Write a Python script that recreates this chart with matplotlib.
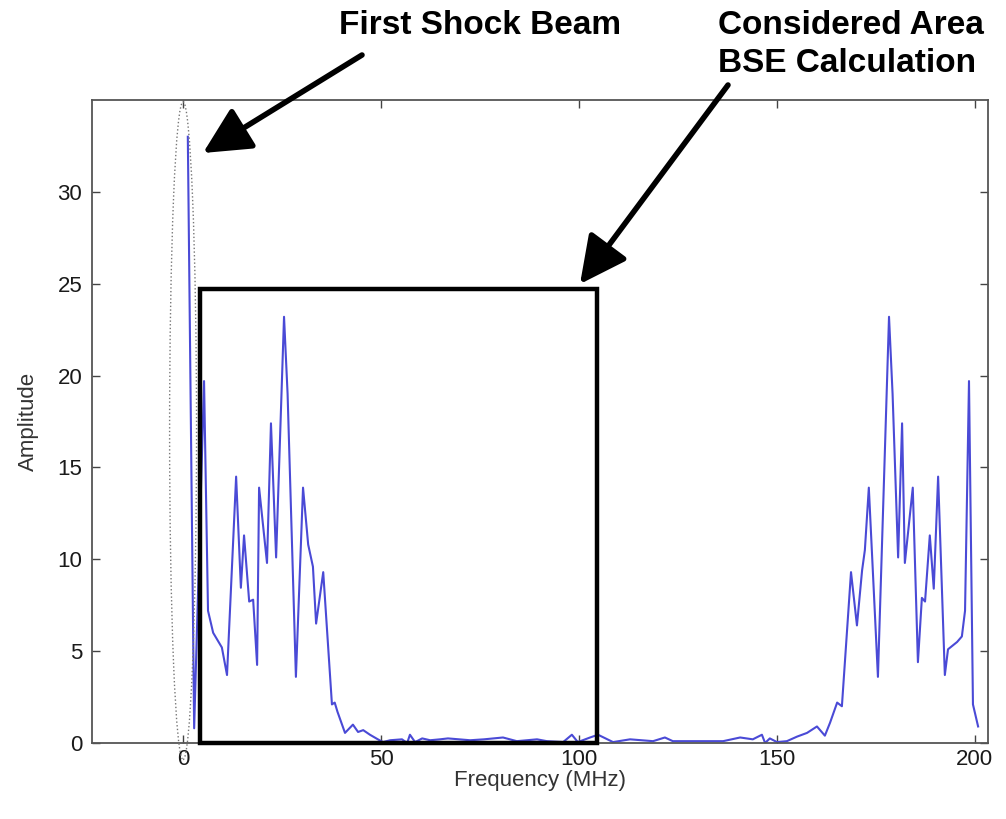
import matplotlib
matplotlib.use("Agg")
import matplotlib.pyplot as plt
from matplotlib.patches import Rectangle, Ellipse, FancyArrowPatch

plt.rcParams['font.family'] = ['Liberation Sans', 'DejaVu Sans']

# ---- data ----
freq = [1.2, 2.8, 5.3, 6.3, 7.6, 9.8, 11.1, 13.4, 14.6, 15.4, 16.7, 17.7, 18.7, 19.2,
        21.2, 22.2, 23.5, 25.5, 26.4, 28.5, 30.3, 31.6, 32.8, 33.6, 35.4, 37.6, 38.3,
        39.0, 40.9, 42.9, 44.2, 45.5, 47.2, 49.2, 50.5, 52.3, 55.3, 56.6, 57.3, 58.6,
        60.4, 62.4, 64.9, 66.9, 72.5, 76.0, 80.8, 84.3, 89.4, 91.9, 96.0, 98.2, 99.7,
        102.8, 104.8, 108.6, 112.9, 118.7, 121.7, 123.7, 129.8, 136.4, 140.7, 143.9,
        146.2, 147.0, 148.2, 150.0, 152.5, 155.1, 157.6, 160.1, 160.9, 162.1, 163.4,
        165.2, 166.4, 168.7, 170.2, 171.5, 172.2, 173.2, 175.5, 178.3, 179.2, 180.6,
        181.6, 182.3, 184.3, 185.6, 186.6, 187.4, 188.6, 189.6, 190.7, 192.4, 193.2,
        195.5, 196.7, 197.5, 198.5, 199.5, 200.8]
amp = [33.0, 0.8, 19.7, 7.2, 6.0, 5.2, 3.7, 14.5, 8.45, 11.3, 7.7, 7.8, 4.25, 13.9,
       9.8, 17.4, 10.1, 23.2, 19.0, 3.6, 13.9, 10.8, 9.6, 6.5, 9.3, 2.1, 2.2,
       1.7, 0.55, 1.0, 0.6, 0.7, 0.45, 0.2, 0.05, 0.15, 0.2, 0.0, 0.45, 0.05,
       0.25, 0.15, 0.2, 0.25, 0.15, 0.2, 0.3, 0.1, 0.2, 0.1, 0.05, 0.45, 0.05,
       0.3, 0.45, 0.05, 0.2, 0.1, 0.3, 0.1, 0.1, 0.1, 0.3, 0.2,
       0.45, 0.0, 0.25, 0.05, 0.1, 0.35, 0.55, 0.9, 0.7, 0.4, 1.1,
       2.2, 2.0, 9.3, 6.4, 9.4, 10.5, 13.9, 3.6, 23.2, 19.0, 10.1,
       17.4, 9.8, 13.9, 4.4, 7.9, 7.7, 11.3, 8.4, 14.5, 3.7, 5.1,
       5.5, 5.8, 7.2, 19.7, 2.1, 0.9]

xticks = [0, 50, 100, 150, 200]
yticks = [0, 5, 10, 15, 20, 25, 30]
box_x = [4.3, 104.5]      # considered area (frequency bounds)
box_top = 24.7            # considered area top amplitude

fig = plt.figure(figsize=(10.06, 8.19), dpi=100)
ax = fig.add_axes([92/1006, 1-743/819, (988-92)/1006, (743-100)/819])

ax.plot(freq, amp, color='#4a4ad6', lw=1.5)
ax.set_xlim(-23, 203.3)
ax.set_ylim(0, 35)
ax.set_xticks(xticks)
ax.set_yticks(yticks)
ax.tick_params(direction='in', length=6, width=1, top=True, right=True,
               labelsize=16, colors='#444444', pad=4)
ax.tick_params(axis='both', labelcolor='#1a1a1a')
ax.tick_params(axis='y', pad=7)
for s in ax.spines.values():
    s.set_color('#555555')
    s.set_linewidth(1.3)
ax.set_xlabel('Frequency (MHz)', fontsize=16, color='#333333', labelpad=0)
ax.set_ylabel('Amplitude', fontsize=16, color='#333333', labelpad=13)

ax.add_patch(Rectangle((box_x[0], 0), box_x[1]-box_x[0], box_top, fill=False,
                       edgecolor='black', lw=3.2, clip_on=False, zorder=5))
ax.add_patch(Ellipse((0, 17.0), 6.8, 35.8, fill=False, edgecolor='#777777',
                     lw=1.0, ls=':', clip_on=False, zorder=4))

fam = ['Liberation Sans', 'DejaVu Sans']
fig.text(480/1006, 1-25/819, 'First Shock Beam', ha='center', va='center',
         fontsize=24, fontweight='bold', family=fam)
fig.text(718/1006, 1-25/819, 'Considered Area', ha='left', va='center',
         fontsize=24, fontweight='bold', family=fam)
fig.text(718/1006, 1-64/819, 'BSE Calculation', ha='left', va='center',
         fontsize=24, fontweight='bold', family=fam)

ap = dict(arrowstyle='-|>,head_length=0.9,head_width=0.45', lw=4, color='black',
          mutation_scale=32, shrinkA=0, shrinkB=0)
fig.add_artist(FancyArrowPatch((362/1006, 1-55/819), (203/1006, 1-153/819),
                               transform=fig.transFigure, **ap))
fig.add_artist(FancyArrowPatch((728/1006, 1-85/819), (580/1006, 1-284/819),
                               transform=fig.transFigure, **ap))

fig.savefig('out.png', dpi=100)
